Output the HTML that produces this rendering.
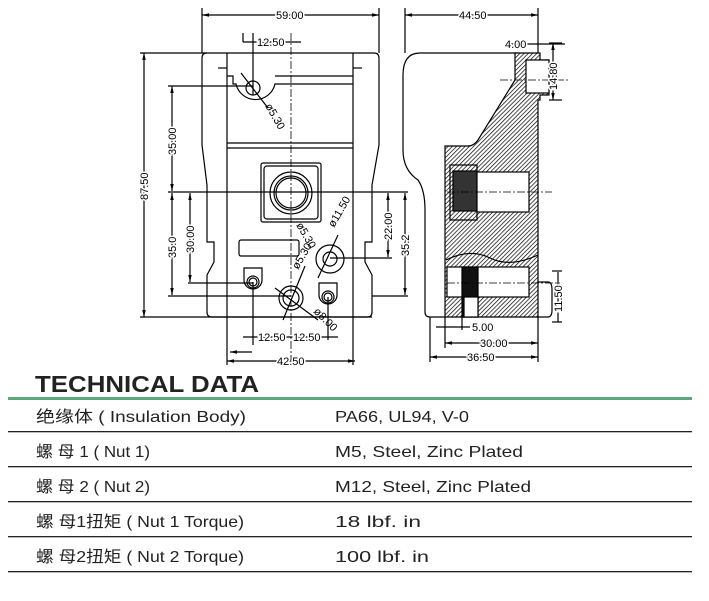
<!DOCTYPE html>
<html><head><meta charset="utf-8"><style>
html,body{margin:0;padding:0;background:#fff;width:709px;height:601px;overflow:hidden}
svg{display:block}
.t{font-family:"Liberation Sans","Noto Sans CJK SC",sans-serif;font-size:16px;fill:#222}
.d{font-family:"Liberation Sans",sans-serif;font-size:11px;fill:#000}
</style></head><body>
<svg width="709" height="601" viewBox="0 0 709 601" xmlns="http://www.w3.org/2000/svg">
<defs>
<pattern id="h" width="3" height="3" patternUnits="userSpaceOnUse" patternTransform="rotate(45)">
<rect width="3" height="3" fill="#fff"/><line x1="0" y1="0" x2="0" y2="3" stroke="#000" stroke-width="1.4"/></pattern>
<marker id="a" markerWidth="6" markerHeight="6" refX="6" refY="3" orient="auto-start-reverse"><path d="M0,1.5L6,3L0,4.5z" fill="#000"/></marker>
</defs>
<g fill="none" stroke="#000" stroke-width="1.2">
<!-- front view -->
<path d="M207,53 H374 Q379,53 379,58 V145 L372,185 V242 H365 V262 L372,275 V312 Q372,317 367,317 H212 Q207,317 207,312 V275 L214,262 V242 H207 V185 L202,145 V58 Q202,53 207,53Z"/>
<line x1="227" y1="53" x2="227" y2="317"/><line x1="353" y1="53" x2="353" y2="317"/>
<line x1="218" y1="68" x2="227" y2="68"/><line x1="353" y1="68" x2="362" y2="68"/>
<line x1="227" y1="143" x2="353" y2="143"/><line x1="227" y1="148" x2="353" y2="148"/>
<path d="M227,76 H233 V84 H236 A20,20 0 0 0 275,84 H353 M275,76 H353"/>
<circle cx="253" cy="88" r="7"/>
<rect x="261" y="163" width="60" height="59" rx="2"/><rect x="264" y="166" width="54" height="53" rx="3"/>
<circle cx="291" cy="193" r="21"/><circle cx="291" cy="193" r="17"/><circle cx="291" cy="193" r="15"/>
<rect x="239" y="240" width="60" height="16" rx="2"/>
<circle cx="330" cy="259" r="14"/><circle cx="330" cy="259" r="7"/>
<path d="M244,268 H262 V280 A9,9 0 0 1 244,280Z"/><circle cx="253" cy="282" r="6"/><circle cx="253" cy="282" r="4"/>
<path d="M319,283 H337 V295 A9,9 0 0 1 319,295Z"/><circle cx="328" cy="297" r="6"/><circle cx="328" cy="297" r="4"/>
<circle cx="291" cy="298" r="12"/><circle cx="291" cy="298" r="8"/>
<line x1="291" y1="33" x2="291" y2="360" stroke-dasharray="8,2,2,2" stroke-width="0.8"/>
<!-- front dims -->
<line x1="202" y1="8" x2="202" y2="53"/><line x1="379" y1="8" x2="379" y2="53"/>
<line x1="202" y1="15" x2="379" y2="15" marker-start="url(#a)" marker-end="url(#a)"/>
<line x1="243" y1="42" x2="301" y2="42"/>
<line x1="253" y1="33" x2="253" y2="95"/>
<line x1="140" y1="53" x2="207" y2="53"/><line x1="140" y1="317" x2="372" y2="317"/>
<line x1="144" y1="53" x2="144" y2="317" marker-start="url(#a)" marker-end="url(#a)"/>
<line x1="168" y1="86" x2="253" y2="86"/>
<line x1="172" y1="86" x2="172" y2="191" marker-start="url(#a)" marker-end="url(#a)"/>
<line x1="168" y1="192" x2="408" y2="192"/>
<line x1="172" y1="193" x2="172" y2="295" marker-start="url(#a)" marker-end="url(#a)"/>
<line x1="168" y1="296" x2="291" y2="296"/>
<line x1="190" y1="193" x2="190" y2="282" marker-start="url(#a)" marker-end="url(#a)"/>
<line x1="188" y1="283" x2="253" y2="283"/>
<line x1="330" y1="258" x2="392" y2="258"/>
<line x1="388" y1="193" x2="388" y2="257" marker-start="url(#a)" marker-end="url(#a)"/>
<line x1="405" y1="193" x2="405" y2="295" marker-start="url(#a)" marker-end="url(#a)"/>
<line x1="372" y1="296" x2="408" y2="296"/>
<line x1="243" y1="33" x2="243" y2="42"/>
<line x1="243" y1="337" x2="338" y2="337"/>
<line x1="253" y1="282" x2="253" y2="345"/><line x1="328" y1="297" x2="328" y2="340"/>
<line x1="227" y1="317" x2="227" y2="365"/><line x1="353" y1="317" x2="353" y2="365"/>
<line x1="227" y1="361" x2="355" y2="361" marker-start="url(#a)" marker-end="url(#a)"/>
<line x1="230" y1="352" x2="252" y2="352" marker-start="url(#a)"/>
<line x1="241" y1="73" x2="268" y2="108"/>
<line x1="275" y1="288" x2="318" y2="320"/>
<line x1="283" y1="320" x2="305" y2="266"/>
<line x1="318" y1="278" x2="338" y2="235"/>
<!-- side view -->
<path d="M420,53 H518 M420,53 Q403,53 403,75 V150 Q403,170 418,180 Q425,190 425,210 V312 Q425,317 430,317 H445"/>
<path d="M518,53 H540 V60 H549 V95 H540 V100 H538 V317 H445 V146 H468 Q474,146 478,140 L515,80 V53Z" fill="url(#h)"/>
<rect x="450" y="165" width="27" height="55" fill="url(#h)"/>
<rect x="453" y="171" width="24" height="40" fill="#333"/>
<rect x="477" y="172" width="52" height="40" fill="#fff"/>
<path d="M446,260 Q470,248 490,258 Q510,268 538,255" />
<rect x="447" y="267" width="82" height="30" fill="#fff"/>
<rect x="462" y="267" width="16" height="50" fill="#111"/>
<rect x="464" y="297" width="14" height="20" fill="#fff"/>
<rect x="526" y="60" width="23" height="33" fill="#fff"/>
<path d="M538,282 H548 Q552,282 552,290 V310 Q552,317 548,317 H538"/>
<line x1="500" y1="80" x2="570" y2="80" stroke-dasharray="8,2,2,2" stroke-width="0.8"/>
<line x1="447" y1="192" x2="552" y2="192" stroke-dasharray="8,2,2,2" stroke-width="0.8"/>
<line x1="447" y1="283" x2="560" y2="283" stroke-dasharray="8,2,2,2" stroke-width="0.8"/>
<line x1="405" y1="8" x2="405" y2="53"/><line x1="538" y1="8" x2="538" y2="53"/>
<line x1="405" y1="15" x2="538" y2="15" marker-start="url(#a)" marker-end="url(#a)"/>
<line x1="505" y1="44" x2="565" y2="44"/>
<line x1="549" y1="43" x2="562" y2="43"/><line x1="549" y1="100" x2="562" y2="100"/>
<line x1="553" y1="43" x2="553" y2="100" marker-start="url(#a)" marker-end="url(#a)"/>
<line x1="552" y1="271" x2="562" y2="271"/><line x1="552" y1="322" x2="562" y2="322"/>
<line x1="558" y1="272" x2="558" y2="322"/>
<line x1="430" y1="317" x2="430" y2="362"/><line x1="445" y1="317" x2="445" y2="348"/><line x1="538" y1="317" x2="538" y2="362"/>
<line x1="462" y1="317" x2="462" y2="330"/>
<line x1="436" y1="327" x2="470" y2="327"/>
<line x1="445" y1="343" x2="538" y2="343" marker-start="url(#a)" marker-end="url(#a)"/>
<line x1="430" y1="357" x2="538" y2="357" marker-start="url(#a)" marker-end="url(#a)"/>
</g>
<g class="d">
<text x="276" y="19" fill="#000" stroke="#fff" stroke-width="3" paint-order="stroke">59.00</text>
<text x="257" y="46" stroke="#fff" stroke-width="3" paint-order="stroke">12.50</text>
<text x="258" y="341" stroke="#fff" stroke-width="3" paint-order="stroke">12.50</text>
<text x="293" y="341" stroke="#fff" stroke-width="3" paint-order="stroke">12.50</text>
<text x="277" y="365" stroke="#fff" stroke-width="3" paint-order="stroke">42.50</text>
<text x="459" y="19" stroke="#fff" stroke-width="3" paint-order="stroke">44.50</text>
<text x="505" y="48" stroke="#fff" stroke-width="3" paint-order="stroke">4.00</text>
<text x="472" y="331" stroke="#fff" stroke-width="3" paint-order="stroke">5.00</text>
<text x="480" y="347" stroke="#fff" stroke-width="3" paint-order="stroke">30.00</text>
<text x="467" y="361" stroke="#fff" stroke-width="3" paint-order="stroke">36.50</text>
<text transform="translate(148,200) rotate(-90)" stroke="#fff" stroke-width="3" paint-order="stroke">87.50</text>
<text transform="translate(176,155) rotate(-90)" stroke="#fff" stroke-width="3" paint-order="stroke">35.00</text>
<text transform="translate(176,258) rotate(-90)" stroke="#fff" stroke-width="3" paint-order="stroke">35.0</text>
<text transform="translate(194,253) rotate(-90)" stroke="#fff" stroke-width="3" paint-order="stroke">30.00</text>
<text transform="translate(392,240) rotate(-90)" stroke="#fff" stroke-width="3" paint-order="stroke">22.00</text>
<text transform="translate(409,256) rotate(-90)" stroke="#fff" stroke-width="3" paint-order="stroke">35.2</text>
<text transform="translate(557,90) rotate(-90)" stroke="#fff" stroke-width="3" paint-order="stroke">14.80</text>
<text transform="translate(562,312) rotate(-90)" stroke="#fff" stroke-width="3" paint-order="stroke">11.50</text>
<text transform="translate(265,106) rotate(60)">ø5.30</text>
<text transform="translate(296,225) rotate(60)">ø5.30</text>
<text transform="translate(298,270) rotate(-60)">ø5.30</text>
<text transform="translate(334,228) rotate(-60)">ø11.50</text>
<text transform="translate(313,312) rotate(45)">ø8.00</text>
</g>
<text x="35" y="392" font-family="Liberation Sans,sans-serif" font-weight="bold" font-size="23" fill="#222" textLength="224" lengthAdjust="spacingAndGlyphs">TECHNICAL DATA</text>
<rect x="8" y="397" width="684" height="3" fill="#5fa77a"/>
<g fill="#222">
<rect x="8" y="431" width="684" height="1.3"/>
<rect x="8" y="466" width="684" height="1.3"/>
<rect x="8" y="501" width="684" height="1.3"/>
<rect x="8" y="536" width="684" height="1.3"/>
<rect x="8" y="571" width="684" height="1.3"/>
</g>
<g class="t">
<text x="36" y="422" textLength="210" lengthAdjust="spacingAndGlyphs">绝缘体 ( Insulation Body)</text>
<text x="335" y="422" textLength="134" lengthAdjust="spacingAndGlyphs">PA66, UL94, V-0</text>
<text x="36" y="457" textLength="114" lengthAdjust="spacingAndGlyphs">螺 母 1 ( Nut 1)</text>
<text x="335" y="457" textLength="188" lengthAdjust="spacingAndGlyphs">M5, Steel, Zinc Plated</text>
<text x="36" y="492" textLength="114" lengthAdjust="spacingAndGlyphs">螺 母 2 ( Nut 2)</text>
<text x="335" y="492" textLength="196" lengthAdjust="spacingAndGlyphs">M12, Steel, Zinc Plated</text>
<text x="36" y="527" textLength="208" lengthAdjust="spacingAndGlyphs">螺 母1扭矩 ( Nut 1 Torque)</text>
<text x="335" y="527" textLength="86" lengthAdjust="spacingAndGlyphs">18 lbf. in</text>
<text x="36" y="562" textLength="208" lengthAdjust="spacingAndGlyphs">螺 母2扭矩 ( Nut 2 Torque)</text>
<text x="335" y="562" textLength="94" lengthAdjust="spacingAndGlyphs">100 lbf. in</text>
</g>
</svg>
</body></html>
